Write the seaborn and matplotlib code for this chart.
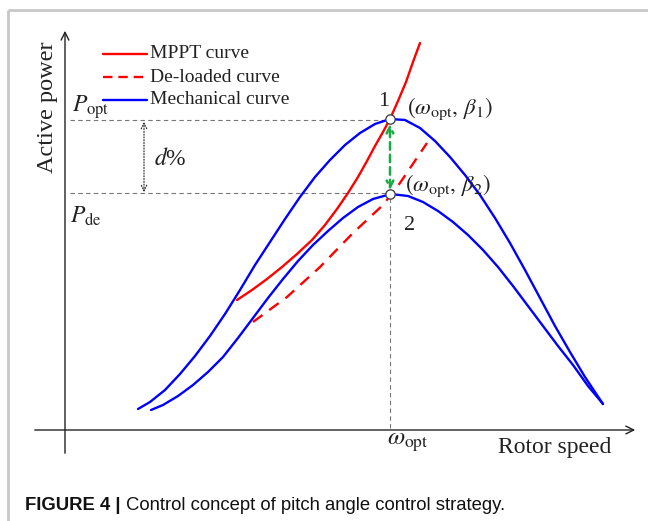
import matplotlib
matplotlib.use("Agg")
import matplotlib.pyplot as plt
import seaborn as sns

# ---- data (schematic, read in picture pixel coordinates) ----
upper_x = [138, 150, 165, 180, 195, 210, 225, 240, 255, 270, 285, 300, 315, 330, 345, 360, 375, 390,
           405, 420, 435, 450, 465, 480, 495, 510, 525, 540, 555, 570, 585, 603]
upper_y = [409, 402, 390, 374, 356, 336, 314, 290, 265, 242, 219, 197, 177, 160, 145, 133, 124, 119,
           120, 128, 141, 157, 175, 195, 218, 243, 270, 298, 326, 352, 377, 404]
lower_x = [151, 163, 178, 193, 208, 223, 238, 253, 268, 283, 298, 313, 328, 343, 358, 373, 391,
           408, 423, 438, 453, 468, 483, 498, 513, 528, 543, 558, 573, 588, 603]
lower_y = [410, 405, 396, 385, 372, 357, 338, 318, 298, 279, 261, 245, 231, 218, 207, 199, 194,
           196, 202, 211, 222, 235, 250, 267, 286, 306, 326, 346, 365, 386, 404]
mppt_x = [237, 252, 267, 282, 297, 312, 325, 337, 348, 358, 367, 375, 383, 390, 398, 406, 413, 420]
mppt_y = [300, 290, 279, 267, 254, 240, 225, 209, 193, 177, 161, 146, 132, 119, 101, 82, 62, 43]
deload_x = [253, 287, 320, 353, 383, 400, 427]
deload_y = [322, 297, 267, 233, 205, 183, 143]
op_x = [390, 390]
op_y = [119, 194]
legend_labels = ["MPPT curve", "De-loaded curve", "Mechanical curve"]

sns.set_theme(style="white")
plt.rcParams["font.family"] = ["Liberation Serif", "DejaVu Serif"]
plt.rcParams["mathtext.fontset"] = "stix"

fig = plt.figure(figsize=(6.48, 5.21), dpi=100)
ax = fig.add_axes([0, 0, 1, 1])
ax.set_xlim(0, 648)
ax.set_ylim(521, 0)
ax.axis("off")

BLUE = "#0000ff"
RED = "#ff0000"
GRAY = "#777777"
INK = "#222222"

# border of the figure panel
ax.plot([8, 8], [10, 521], color="#c8c8c8", lw=2, solid_capstyle="butt")
ax.plot([8, 648], [10, 10], color="#c8c8c8", lw=2, solid_capstyle="butt")

# axes arrows
ax.annotate("", xy=(65, 28), xytext=(65, 456),
            arrowprops=dict(arrowstyle="->", color=INK, lw=1.0, mutation_scale=14))
ax.annotate("", xy=(638, 430), xytext=(32, 430),
            arrowprops=dict(arrowstyle="->", color=INK, lw=1.0, mutation_scale=14))

# guide lines
ax.plot([70, 388], [120, 120], color=GRAY, lw=0.8, dashes=(4, 3))
ax.plot([70, 388], [193, 193], color=GRAY, lw=0.8, dashes=(4, 3))
ax.plot([390, 390], [198, 430], color=GRAY, lw=0.8, dashes=(4, 3))

# curves
kw = dict(sort=False, estimator=None, lw=1.7, ax=ax)
sns.lineplot(x=upper_x, y=upper_y, color=BLUE, **kw)
sns.lineplot(x=lower_x, y=lower_y, color=BLUE, **kw)
sns.lineplot(x=mppt_x, y=mppt_y, color=RED, **kw)
sns.lineplot(x=deload_x, y=deload_y, color=RED, **kw)
ax.lines[-1].set_dashes((5, 3.5))
for ln in ax.lines[-4:]:
    ln.set_solid_joinstyle("round")

# green arrow between operating points
ax.annotate("", xy=(390, 124), xytext=(390, 190),
            arrowprops=dict(arrowstyle="<->", color="#1aaa44", lw=1.8, ls=(0, (3, 2)),
                            mutation_scale=12, shrinkA=0, shrinkB=0))

# d% arrow
ax.annotate("", xy=(144, 122), xytext=(144, 192),
            arrowprops=dict(arrowstyle="<->", color=INK, lw=0.8, ls=(0, (1, 1.5)),
                            mutation_scale=10, shrinkA=0, shrinkB=0))

# operating points
sns.scatterplot(x=op_x, y=op_y, s=45, color="white", edgecolor="#444444", linewidth=1.0,
                zorder=5, ax=ax)

# legend (manual)
leg_y = [54, 77, 100]
leg_styles = [(RED, None), (RED, (4, 2.5)), (BLUE, None)]
for yy, lab, (c, d) in zip(leg_y, legend_labels, leg_styles):
    ln, = ax.plot([103, 147], [yy, yy], color=c, lw=1.7)
    if d:
        ln.set_dashes(d)
    ax.text(150, yy, lab, fontsize=14, va="center", ha="left", color=INK)

# texts
ax.text(47, 107, "Active power", rotation=90, fontsize=17.5, va="center", ha="center", color=INK)
ax.text(72, 107, r"$P_{\mathrm{opt}}$", fontsize=17, va="center", ha="left", color=INK)
ax.text(70, 216, r"$P_{\mathrm{de}}$", fontsize=17, va="center", ha="left", color=INK)
ax.text(154, 159, r"$d$%", fontsize=17, va="center", ha="left", color=INK)
ax.text(378, 102, "1", fontsize=16, va="center", ha="left", color=INK)
ax.text(404, 226, "2", fontsize=16, va="center", ha="left", color=INK)
ax.text(407, 109, r"$(\omega_{\mathrm{opt}},\,\beta_1)$", fontsize=16.5, va="center", ha="left", color=INK)
ax.text(405, 186, r"$(\omega_{\mathrm{opt}},\,\beta_2)$", fontsize=16.5, va="center", ha="left", color=INK)
ax.text(387, 443, r"$\omega_{\mathrm{opt}}$", fontsize=18, va="center", ha="left", color=INK)
ax.text(498, 448, "Rotor speed", fontsize=17, va="center", ha="left", color=INK)

# caption
ax.text(25, 505, "FIGURE 4 |", fontsize=13.3, fontweight="bold", va="center", ha="left",
        family=["Liberation Sans", "DejaVu Sans"], color="#111111")
ax.text(126, 505, "Control concept of pitch angle control strategy.", fontsize=13.3, va="center",
        ha="left", family=["Liberation Sans", "DejaVu Sans"], color="#111111")

fig.savefig("out.png", dpi=100)
